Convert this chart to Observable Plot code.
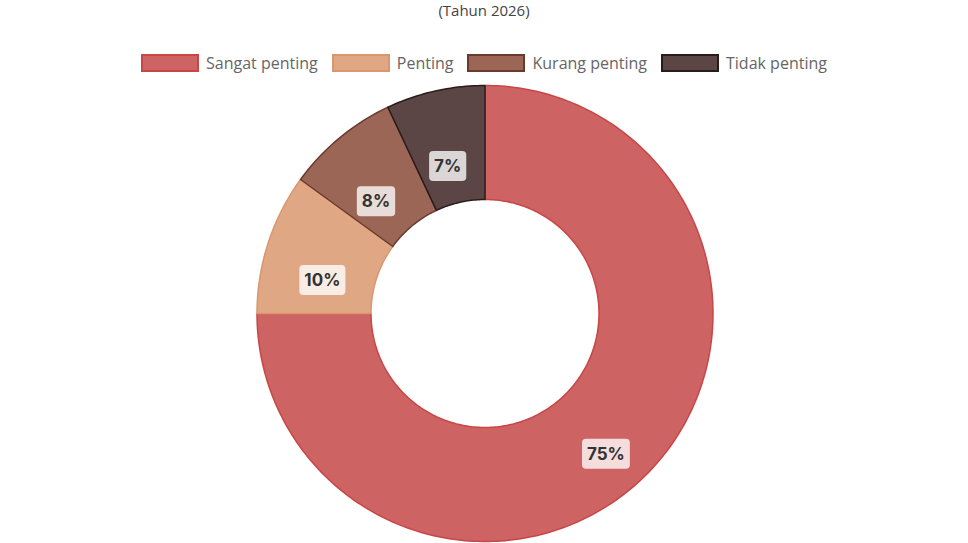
<!DOCTYPE html>
<html>
<head>
<meta charset="utf-8">
<script src="https://cdn.jsdelivr.net/npm/d3@7"></script>
<script src="https://cdn.jsdelivr.net/npm/@observablehq/plot@0.6"></script>
<style>
  html, body { margin: 0; padding: 0; background: #fff; overflow: hidden; }
  #wrap { position: relative; width: 968px; height: 543px; }
  #subtitle { position: absolute; top: 0; left: 0; width: 968px; text-align: center;
    font-family: "Open Sans", sans-serif; font-size: 15px; line-height: normal; color: #444; }
  #legend { position: absolute; top: 54px; left: 0; width: 968px; display: flex; justify-content: center;
    font: 16px "Open Sans", sans-serif; color: #666; }
  .item { display: flex; align-items: center; margin: 0 7px; height: 18px; }
  .box { width: 54px; height: 14px; border-width: 2px; border-style: solid; margin-right: 7px; }
  #chart { position: absolute; top: 80px; left: 0; }
</style>
</head>
<body>
<div id="wrap">
  <div id="subtitle">(Tahun 2026)</div>
  <div id="legend"></div>
  <div id="chart"></div>
</div>
<script>
// Data
const categories = ["Sangat penting", "Penting", "Kurang penting", "Tidak penting"];
const values = [75, 10, 8, 7];
const valueLabels = ["75%", "10%", "8%", "7%"];

// Styles
const fillColors = ["#cd6362", "#e0a785", "#9c6657", "#5b4645"];
const strokeColors = ["#c94646", "#d9966f", "#6b3a2e", "#2a1c1c"];
const innerRatio = 0.5;

// Legend
const legend = document.getElementById("legend");
categories.forEach((c, i) => {
  const item = document.createElement("div");
  item.className = "item";
  const box = document.createElement("span");
  box.className = "box";
  box.style.background = fillColors[i];
  box.style.borderColor = strokeColors[i];
  const t = document.createElement("span");
  t.textContent = c;
  item.appendChild(box); item.appendChild(t);
  legend.appendChild(item);
});

// Build slice geometry from values
const total = d3.sum(values);
let cum = 0;
const points = [];
const labelData = [];
categories.forEach((c, i) => {
  const a0 = cum / total * 2 * Math.PI;
  cum += values[i];
  const a1 = cum / total * 2 * Math.PI;
  const n = Math.max(2, Math.ceil((a1 - a0) / (Math.PI / 180)));
  for (let k = 0; k <= n; k++) {
    const a = a0 + (a1 - a0) * k / n;
    points.push({cat: c, i, x: Math.sin(a), y: Math.cos(a)});
  }
  for (let k = n; k >= 0; k--) {
    const a = a0 + (a1 - a0) * k / n;
    points.push({cat: c, i, x: innerRatio * Math.sin(a), y: innerRatio * Math.cos(a)});
  }
  const am = (a0 + a1) / 2, rm = (1 + innerRatio) / 2;
  labelData.push({label: valueLabels[i], x: rm * Math.sin(am), y: rm * Math.cos(am)});
});

const cx = 484.5, cy = 313 - 80, R = 228;
const chart = Plot.plot({
  width: 968,
  height: 463,
  margin: 0,
  x: {domain: [-1, 1], range: [cx - R, cx + R], axis: null},
  y: {domain: [-1, 1], range: [cy + R, cy - R], axis: null},
  color: {type: "identity"},
  style: {background: "transparent"},
  marks: [
    Plot.line(points, {
      x: "x", y: "y", z: "cat",
      fill: d => fillColors[d.i], stroke: d => strokeColors[d.i],
      strokeWidth: 1.5, curve: "linear-closed"
    }),
    Plot.text(labelData, {
      x: "x", y: "y", text: "label", dy: 20,
      fontSize: 17, fontWeight: 700, fill: "#333",
      fontFamily: "Inter, sans-serif", className: "vlabel"
    })
  ]
});
document.getElementById("chart").appendChild(chart);

// Rounded label backgrounds
chart.querySelectorAll("g.vlabel text").forEach(t => {
  const b = t.getBBox();
  const rect = document.createElementNS("http://www.w3.org/2000/svg", "rect");
  const px = 5, py = 6;
  rect.setAttribute("x", b.x - px);
  rect.setAttribute("y", b.y - py + 1);
  rect.setAttribute("width", b.width + 2 * px);
  rect.setAttribute("height", b.height + 2 * py - 2);
  rect.setAttribute("rx", 4);
  rect.setAttribute("fill", "rgba(255,255,255,0.78)");
  rect.setAttribute("transform", t.getAttribute("transform") || "");
  t.parentNode.insertBefore(rect, t);
});
</script>
</body>
</html>
